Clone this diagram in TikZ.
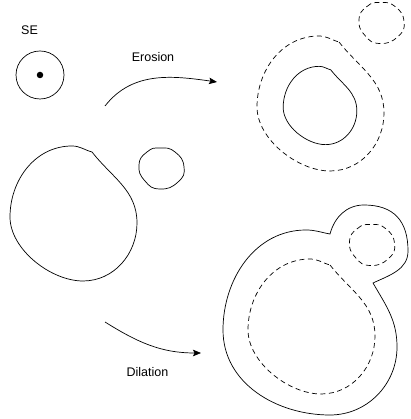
\documentclass[tikz,border=0pt]{standalone}
\usepackage{fontspec}
\setmainfont{Liberation Sans}
\usetikzlibrary{arrows.meta}
\newcommand\mainblobpath[1]{\draw[#1] (18.5,61.5) to[out=-52,in=90] (63.5,-9.5) to[out=-90,in=0] (9.5,-67.5) to[out=180,in=-90,looseness=0.85] (-63.5,-3.5) to[out=90,in=180] (-1.5,67.5) to[out=0,in=165] (18.5,61.5) -- cycle;}
\newcommand\smallblobpath[1]{\draw[#1] plot[smooth cycle, tension=0.9] coordinates {(-22.5,3.5) (-14.5,16.5) (-1.5,20.5) (13.5,16.5) (22.5,1.5) (16.5,-13.5) (-1.5,-20.5) (-16.5,-12.5)};}
\begin{document}
\begin{tikzpicture}[x=1pt,y=1pt,
  line width=0.7pt,
  solidline/.style={draw=black},
  dashline/.style={draw=black,dash pattern=on 5pt off 3.5pt},
  lbl/.style={font=\fontsize{12.5}{15}\selectfont, inner sep=0pt},
  conn/.style={-{Stealth[length=8pt,width=6.5pt,inset=1.5pt]}, line width=0.7pt}
]
\useasboundingbox (0,0) rectangle (410,419);

% structuring element
\node[lbl] (selabel) at (29.5,388.5) {SE};
\node[circle, draw, minimum size=48pt, inner sep=0pt] (se) at (40,344) {};
\node[circle, fill, minimum size=6.5pt, inner sep=0pt] (sedot) at (se.center) {};

% original set
\mainblobpath{solidline, shift={(73.5,205.5)}}
\smallblobpath{solidline, shift={(161.5,250.5)}}

% erosion result
\mainblobpath{dashline, shift={(320.5,315.5)}}
\mainblobpath{solidline, shift={(320,313.5)}, scale=0.58}
\smallblobpath{dashline, shift={(381.5,396)}}

% dilation result
\mainblobpath{dashline, shift={(311.5,92.5)}}
\smallblobpath{dashline, shift={(372,174)}}
\draw[solidline] (330,185) to[out=170,in=0] (306,189) to[out=180,in=90] (223,89)
  to[out=-90,in=180] (330,4) to[out=0,in=-90] (397,72) to[out=90,in=-60] (373,136)
  to[out=25,in=-90] (408,168) to[out=90,in=0,looseness=1.2] (364,214)
  to[out=180,in=75] (330,185) -- cycle;

% arrows and labels
\coordinate (ea1) at (105,313);
\coordinate (ea2) at (217,337);
\draw[conn] (ea1) to[out=52,in=172] (ea2);
\node[lbl] (erosion) at (153,362) {Erosion};

\coordinate (da1) at (105,97);
\coordinate (da2) at (201,66);
\draw[conn] (da1) to[out=-32,in=180] (da2);
\node[lbl] (dilation) at (147.5,46.5) {Dilation};
\end{tikzpicture}
\end{document}
